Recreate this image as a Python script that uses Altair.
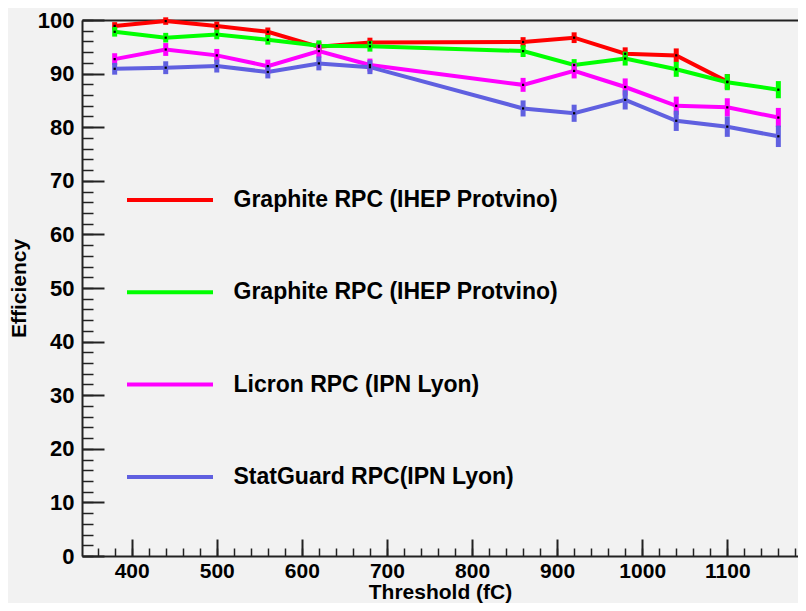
import altair as alt
import pandas as pd

# ---- data ----
thresholds = [380, 440, 500, 560, 620, 680, 860, 920, 980, 1040, 1100, 1160]
series_labels = [
    "Graphite RPC (IHEP Protvino)",
    "Graphite RPC (IHEP Protvino)\u00a0",
    "Licron RPC (IPN Lyon)",
    "StatGuard RPC(IPN Lyon)",
]
series_colors = ["#ff0000", "#00ff00", "#ff00ff", "#6060e0"]

red_eff = [98.9, 99.8, 98.9, 97.8, 95.0, 95.8, 95.9, 96.7, 93.7, 93.4, 88.5]
green_eff = [97.8, 96.7, 97.3, 96.3, 95.2, 95.1, 94.2, 91.6, 92.8, 90.8, 88.4, 87.0]
magenta_eff = [92.7, 94.5, 93.4, 91.4, 94.2, 91.6, 87.9, 90.5, 87.5, 84.0, 83.7, 81.8]
blue_eff = [90.9, 91.1, 91.4, 90.3, 91.9, 91.2, 83.5, 82.6, 85.1, 81.2, 80.1, 78.3]

red_err = [0.7, 0.7, 0.8, 0.8, 0.9, 0.9, 0.9, 1.0, 1.2, 1.3, 1.4]
green_err = [0.9, 0.9, 0.9, 0.9, 1.0, 1.0, 1.1, 1.1, 1.3, 1.4, 1.5, 1.6]
magenta_err = [1.1, 1.2, 1.2, 1.2, 1.2, 1.2, 1.3, 1.4, 1.6, 1.7, 1.7, 1.8]
blue_err = [1.1, 1.2, 1.2, 1.2, 1.3, 1.3, 1.5, 1.6, 1.8, 1.9, 1.9, 2.0]

x_major = [400, 500, 600, 700, 800, 900, 1000, 1100]
x_minor = list(range(360, 1181, 20))
y_major = list(range(0, 101, 10))
y_minor = list(range(0, 101, 2))

rows = []
for lab, vals, errs in zip(series_labels,
                           [red_eff, green_eff, magenta_eff, blue_eff],
                           [red_err, green_err, magenta_err, blue_err]):
    for t, v, e in zip(thresholds, vals, errs):
        rows.append({"threshold": t, "eff": v, "lo": v - e, "hi": v + e, "series": lab})
df = pd.DataFrame(rows)

FONT = "Liberation Sans"
AX = "#222222"

xscale = alt.Scale(domain=[341.6, 1183.1], nice=False, zero=False)
yscale = alt.Scale(domain=[0, 100], nice=False, zero=False)
cscale = alt.Scale(domain=series_labels, range=series_colors)

base = alt.Chart(df)

lines = base.mark_line(strokeWidth=4).encode(
    x=alt.X("threshold:Q", scale=xscale, title="Threshold (fC)",
            axis=alt.Axis(orient="bottom", values=x_major, format="d", ticks=False, tickSize=0,
                          domain=True, domainColor=AX, domainWidth=2, grid=False,
                          labelFont=FONT, labelFontWeight="bold", labelFontSize=21, labelColor="black",
                          labelPadding=4, labelFlush=False,
                          titleFont=FONT, titleFontWeight="bold", titleFontSize=21, titleColor="black",
                          titleBaseline="alphabetic", titleY=42)),
    y=alt.Y("eff:Q", scale=yscale, title="Efficiency",
            axis=alt.Axis(orient="left", values=y_major, format="d", ticks=False, tickSize=0,
                          domain=True, domainColor=AX, domainWidth=2, grid=False,
                          labelFont=FONT, labelFontWeight="bold", labelFontSize=22, labelColor="black",
                          labelPadding=8, labelFlush=False,
                          titleFont=FONT, titleFontWeight="bold", titleFontSize=21, titleColor="black",
                          titlePadding=8)),
    color=alt.Color("series:N", scale=cscale, title=None,
                    legend=alt.Legend(orient="none", legendX=43, legendY=135,
                                      symbolType="stroke", symbolSize=7396, symbolStrokeWidth=4,
                                      rowPadding=35.3, labelOffset=18.5, padding=0,
                                      labelFont=FONT, labelFontWeight="bold", labelFontSize=23,
                                      labelColor="black", labelLimit=600)),
)

errs = base.mark_rule(strokeWidth=5).encode(
    x=alt.X("threshold:Q", scale=xscale, title=None,
            axis=alt.Axis(orient="bottom", offset=-17, tickSize=17, values=x_major, labels=False,
                          domain=False, grid=False, tickColor=AX, tickWidth=2)),
    y=alt.Y("lo:Q", scale=yscale, title=None,
            axis=alt.Axis(orient="left", offset=-22, tickSize=22, values=y_major, labels=False,
                          domain=False, grid=False, tickColor=AX, tickWidth=2)),
    y2="hi:Q",
    color=alt.Color("series:N", scale=cscale, legend=None),
)

dots = base.mark_square(size=5, color="black", opacity=1).encode(
    x=alt.X("threshold:Q", scale=xscale, title=None,
            axis=alt.Axis(orient="bottom", offset=-8, tickSize=8, values=x_minor, labels=False,
                          domain=False, grid=False, tickColor=AX, tickWidth=1.5)),
    y=alt.Y("eff:Q", scale=yscale, title=None,
            axis=alt.Axis(orient="left", offset=-11, tickSize=11, values=y_minor, labels=False,
                          domain=False, grid=False, tickColor=AX, tickWidth=1.5)),
)

frame = base.mark_point(opacity=0).encode(
    x=alt.X("threshold:Q", scale=xscale, title=None,
            axis=alt.Axis(orient="top", labels=False, ticks=False, domain=True,
                          domainColor=AX, domainWidth=2, grid=False)),
    y=alt.Y("eff:Q", scale=yscale, axis=None),
)

chart = alt.layer(lines, errs, dots, frame).resolve_axis(
    x="independent", y="independent"
).properties(
    width=716, height=536, background="#f2f2f2",
    autosize=alt.AutoSizeParams(type="none"),
    padding={"left": 74, "top": 12, "right": 0, "bottom": 47},
).configure_view(stroke=None)

chart.save("out.html", embed_options={"renderer": "svg", "actions": False})
